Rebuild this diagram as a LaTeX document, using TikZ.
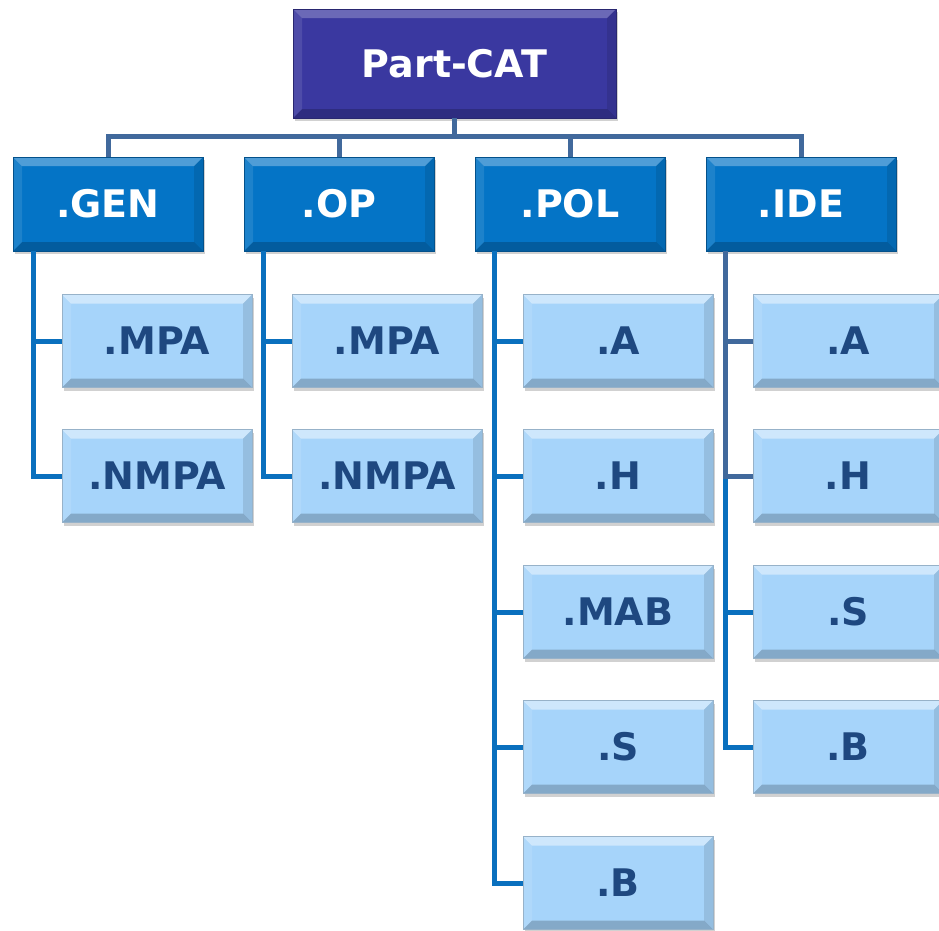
\documentclass[tikz,border=0pt]{standalone}
\usepackage{fontspec}
\setmainfont{DejaVu Sans}
\usetikzlibrary{shadows}
\definecolor{rootfill}{RGB}{58,56,160}
\definecolor{catfill}{RGB}{4,116,198}
\definecolor{leaffill}{RGB}{166,212,250}
\definecolor{leaftext}{RGB}{30,72,128}
\definecolor{busblue}{RGB}{65,105,156}
\definecolor{lineblue}{RGB}{10,112,190}
\tikzset{
  bevel/.style={path picture={
    \fill[white,opacity=#1] (path picture bounding box.north west) -- (path picture bounding box.north east)
      -- ([shift={(-9pt,-9pt)}]path picture bounding box.north east) -- ([shift={(9pt,-9pt)}]path picture bounding box.north west) -- cycle;
    \fill[black,opacity=0.2] (path picture bounding box.south west) -- (path picture bounding box.south east)
      -- ([shift={(-9pt,9pt)}]path picture bounding box.south east) -- ([shift={(9pt,9pt)}]path picture bounding box.south west) -- cycle;
    \fill[white,opacity=0.1] (path picture bounding box.north west) -- ([shift={(9pt,-9pt)}]path picture bounding box.north west)
      -- ([shift={(9pt,9pt)}]path picture bounding box.south west) -- (path picture bounding box.south west) -- cycle;
    \fill[black,opacity=0.1] (path picture bounding box.north east) -- ([shift={(-9pt,-9pt)}]path picture bounding box.north east)
      -- ([shift={(-9pt,9pt)}]path picture bounding box.south east) -- (path picture bounding box.south east) -- cycle;
  }},
  box/.style={rectangle, inner sep=0pt, outer sep=0pt,
    font=\fontsize{38}{42}\selectfont\bfseries,
    drop shadow={shadow xshift=2pt, shadow yshift=-3pt, opacity=0.18, fill=black}},
  rootbox/.style={box, fill=rootfill, draw=rootfill!70!black, line width=0.6pt, text=white,
    minimum width=323pt, minimum height=109pt, bevel=0.25},
  catbox/.style={box, fill=catfill, draw=catfill!70!black, line width=0.6pt, text=white,
    minimum width=190pt, minimum height=94pt, bevel=0.3},
  leafbox/.style={box, fill=leaffill, draw=leaffill!60!gray, line width=0.6pt, text=leaftext,
    minimum width=190pt, minimum height=93pt, bevel=0.45},
  busline/.style={draw=busblue, line width=5pt},
  childline/.style={draw=lineblue, line width=5pt},
  childline2/.style={draw=busblue, line width=5pt},
}
\begin{document}
\begin{tikzpicture}[x=1pt,y=-1pt]
\useasboundingbox[fill=white] (0,0) rectangle (939,930);
\coordinate (bus) at (454.5,136);
\node[rootbox] (root) at (454.5,63.5) {Part-CAT};
\node[catbox] (gen) at (108,204) {.GEN};
\node[catbox] (op)  at (339,204) {.OP};
\node[catbox] (pol) at (570,204) {.POL};
\node[catbox] (ide) at (801,204) {.IDE};
% leaves
\node[leafbox] (gmpa)  at (157,341) {.MPA};
\node[leafbox] (gnmpa) at (157,476) {.NMPA};
\node[leafbox] (ompa)  at (387,341) {.MPA};
\node[leafbox] (onmpa) at (387,476) {.NMPA};
\node[leafbox] (pa)   at (618,341) {.A};
\node[leafbox] (ph)   at (618,476) {.H};
\node[leafbox] (pmab) at (618,612) {.MAB};
\node[leafbox] (ps)   at (618,747) {.S};
\node[leafbox] (pb)   at (618,883) {.B};
\node[leafbox] (ia)   at (848,341) {.A};
\node[leafbox] (ih)   at (848,476) {.H};
\node[leafbox] (is)   at (848,612) {.S};
\node[leafbox] (ib)   at (848,747) {.B};
% bus connectors
\draw[busline] (root.south) -- (bus);
\draw[busline, line cap=rect] (gen.north |- bus) -- (ide.north |- bus);
\draw[busline] (gen.north |- bus) -- (gen.north);
\draw[busline] (op.north |- bus) -- (op.north);
\draw[busline] (pol.north |- bus) -- (pol.north);
\draw[busline] (ide.north |- bus) -- (ide.north);
% child connectors
\draw[childline] ([xshift=20pt]gen.south west) |- (gmpa.west);
\draw[childline] ([xshift=20pt]gen.south west) |- (gnmpa.west);
\draw[childline] ([xshift=19pt]op.south west) |- (ompa.west);
\draw[childline] ([xshift=19pt]op.south west) |- (onmpa.west);
\draw[childline] ([xshift=19pt]pol.south west) |- (pa.west);
\draw[childline] ([xshift=19pt]pol.south west) |- (ph.west);
\draw[childline] ([xshift=19pt]pol.south west) |- (pmab.west);
\draw[childline] ([xshift=19pt]pol.south west) |- (ps.west);
\draw[childline] ([xshift=19pt]pol.south west) |- (pb.west);
\draw[childline] ([xshift=19pt]ide.south west) |- (is.west);
\draw[childline] ([xshift=19pt]ide.south west) |- (ib.west);
\draw[childline2] ([xshift=19pt]ide.south west) |- (ia.west);
\draw[childline2] ([xshift=19pt]ide.south west) |- (ih.west);
\end{tikzpicture}
\end{document}
